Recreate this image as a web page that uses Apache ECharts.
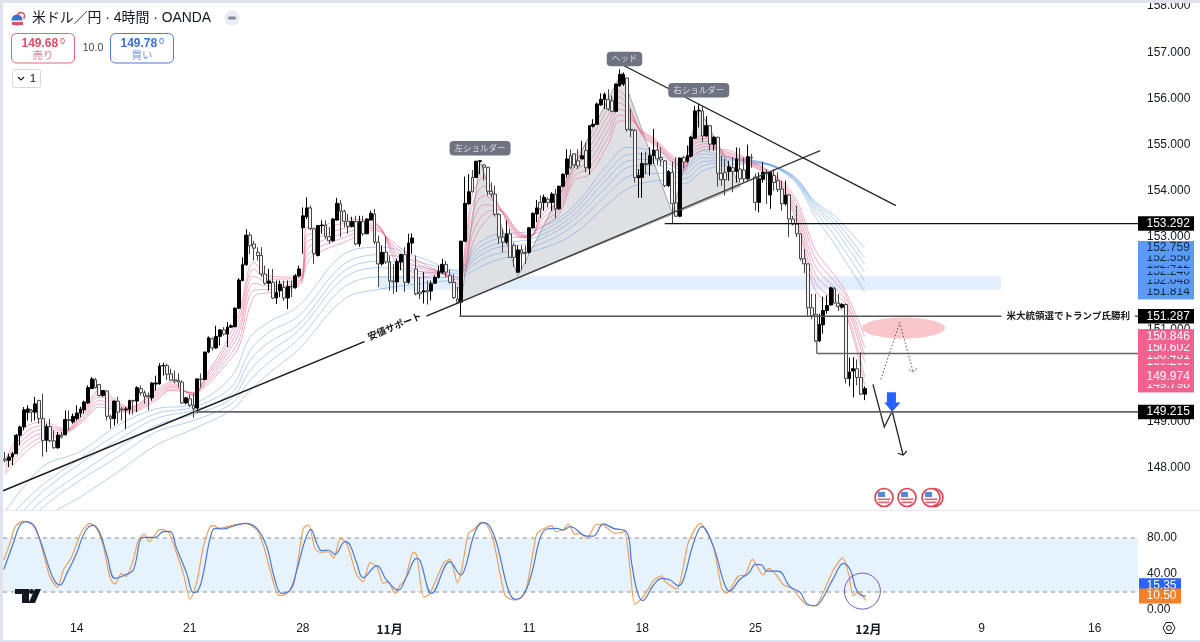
<!DOCTYPE html>
<html><head><meta charset="utf-8">
<style>html,body{margin:0;padding:0;background:#fff}#c{width:1200px;height:642px}</style>
<script src="https://cdn.jsdelivr.net/npm/echarts@6/dist/echarts.min.js"></script>
</head><body><div id="c"></div>
<script>
const FONT='"Liberation Sans","Noto Sans CJK JP",sans-serif';
// 4-hour candles, one row per bar: open, close, low, high
const candles=[
[148.2,148.17,148.13,148.35],[148.17,148.24,148.02,148.31],[148.24,148.31,148.06,148.35],[148.31,148.71,148.31,148.74],[148.71,148.89,148.49,148.92],
[148.89,149.26,148.82,149.32],[149.21,149.28,149.03,149.36],[149.25,149.21,149,149.28],[149.21,149.39,149.03,149.54],[149.46,149.07,148.96,149.48],
[149.07,148.6,148.25,149.61],[148.6,148.9,148.35,148.96],[148.9,148.59,148.56,149.07],[148.59,148.44,148.42,148.82],[148.44,148.71,148.42,148.78],
[148.71,148.67,148.64,148.78],[148.72,149.05,148.71,149.25],[149.05,149.03,148.82,149.25],[149,149.12,148.96,149.18],[149.07,149.19,149.03,149.36],
[149.19,149.28,149.1,149.33],[149.26,149.43,149.18,149.46],[149.41,149.74,149.39,149.79],[149.72,149.93,149.72,149.97],[149.91,149.74,149.72,149.95],
[149.81,149.57,149.55,149.82],[149.57,149.68,149.54,149.69],[149.67,149.12,149.03,149.68],[149.12,149.07,148.85,149.16],[149.07,149.45,148.92,149.46],
[149.45,149.21,148.96,149.54],[149.28,149.26,149.03,149.32],[149.26,149.28,148.85,149.32],[149.27,149.46,149.16,149.48],[149.46,149.45,149.16,149.48],
[149.45,149.74,149.21,149.77],[149.72,149.63,149.57,149.79],[149.63,149.55,149.39,149.68],[149.57,149.54,149.25,149.64],[149.52,149.84,149.46,149.86],
[149.82,149.84,149.68,150],[149.82,150.21,149.81,150.27],[150.21,150.22,150,150.28],[150.22,150.03,149.9,150.26],[150.04,149.9,149.88,150.15],
[149.91,149.88,149.84,150.11],[149.9,149.86,149.75,150.05],[149.86,149.41,149.39,149.9],[149.41,149.52,149.38,149.54],[149.5,149.36,149.32,149.59],
[149.36,149.28,149.09,149.61],[149.3,149.93,149.19,149.93],[149.93,149.92,149.75,150.05],[149.92,150.51,149.9,150.52],[150.51,150.82,150.49,150.85],
[150.8,150.6,150.54,150.83],[150.6,150.85,150.58,151.08],[150.85,150.99,150.65,151.01],[150.99,150.9,150.87,151.05],[150.9,151.05,150.62,151.16],
[151.05,151.08,151.03,151.11],[151.06,151.46,151.05,151.48],[151.46,152.07,151.44,152.11],[152.06,152.4,152.04,152.56],[152.4,153.04,152.38,153.17],
[153.04,152.81,152.63,153.1],[152.85,152.76,152.49,152.92],[152.67,152.6,152.49,152.78],[152.6,152.2,152.14,152.78],[152.2,152,151.97,152.38],
[152,152.05,151.84,152.31],[152.02,151.68,151.66,152.31],[151.68,151.8,151.55,152.06],[151.84,151.98,151.7,152.06],[151.91,151.68,151.62,152.06],
[151.68,151.93,151.44,152.06],[151.93,151.92,151.7,152.06],[151.91,152.16,151.88,152.2],[152.16,152.31,152.13,152.38],[153.2,153.46,152.64,153.64],
[153.44,153.63,153.39,153.86],[153.63,153.18,153.15,153.68],[153.18,152.64,152.42,153.18],[152.6,153.25,152.58,153.26],[153.25,153.26,153.07,153.36],
[153.26,153.01,152.96,153.36],[153.01,152.92,152.85,153.21],[152.92,153.39,152.89,153.41],[153.37,153.73,153.36,153.85],[153.72,153.56,153,153.8],
[153.56,153.34,153.21,153.59],[153.34,153.23,153.07,153.5],[153.23,153.34,153.21,153.44],[153.34,152.85,152.82,153.46],[152.85,153.34,152.79,153.46],
[153.34,153.07,153.03,153.46],[153.07,153.39,153.07,153.41],[153.37,153.51,153.36,153.57],[153.5,152.89,152.85,153.61],[152.89,152.42,151.92,153.03],
[152.42,152.67,152.38,152.82],[152.67,152.46,152.42,153],[152.46,152.05,151.84,152.6],[152.05,152.03,151.77,152.42],[152.03,152.47,151.81,152.53],
[152.46,152.62,152.28,152.64],[152.62,152.02,151.81,152.78],[152.02,152.87,151.99,153.07],[152.87,152.98,152.64,153.08],[152.31,151.77,151.74,152.6],
[151.81,151.77,151.66,152.13],[151.81,151.84,151.56,152.24],[151.84,151.81,151.54,152.06],[151.83,151.99,151.63,152.06],[152,152.13,151.99,152.17],
[152.13,152.25,152.1,152.38],[152.24,152.41,152.2,152.53],[152.41,152.24,152.13,152.49],[152.17,152.02,151.99,152.29],[152.02,151.69,151.66,152.2],
[151.66,151.59,151.56,151.92],[151.59,152.91,151.3,152.92],[152.91,153.73,152.89,154.31],[153.72,153.98,153.7,154.36],[154.29,153.98,153.97,154.45],
[154.29,154.64,154.28,154.65],[154.64,154.65,154.36,154.67],[154.56,154.51,154.22,154.58],[154.51,153.99,153.9,154.52],[153.99,153.93,153.86,154.18],
[153.93,153.49,153.44,154.11],[153.49,153,152.85,153.51],[153,152.89,152.67,153.18],[152.89,153.07,152.85,153.36],[153.07,152.56,152.55,153.18],
[152.82,152.56,152.36,152.87],[152.24,152.72,152.22,152.82],[152.72,152.65,152.28,152.82],[152.67,152.64,152.42,152.82],[152.67,153.2,152.64,153.21],
[153.2,153.51,153.18,153.54],[153.5,153.63,153.32,153.8],[153.75,153.61,153.41,153.9],[153.75,153.86,153.57,153.92],[153.82,153.75,153.64,153.86],
[153.75,153.93,153.57,153.97],[153.93,153.61,153.41,154.04],[153.61,154.1,153.59,154.11],[154.1,154.36,154.08,154.38],[154.36,154.69,154.29,154.9],
[154.76,154.5,154.47,154.9],[154.8,154.56,154.5,154.81],[154.65,154.54,154.47,154.9],[154.69,154.76,154.69,155.08],[154.87,154.5,154.4,155.05],
[154.49,155.41,154.35,155.42],[155.4,155.44,155.37,155.55],[155.44,155.88,155.43,155.91],[155.86,155.98,155.84,156.11],[155.98,156.09,155.77,156.13],
[155.98,155.77,155.73,156.2],[155.95,155.72,155.7,156.06],[155.72,156.31,155.7,156.32],[156.27,156.52,156.26,156.63],[156.31,156.52,156.27,156.56],
[156.44,155.33,155.28,156.45],[155.33,155.31,155.16,155.77],[155.31,154.29,154.18,155.34],[154.28,154.33,153.85,154.47],[154.29,154.59,153.85,154.83],
[154.59,154.57,154.36,154.85],[154.58,154.76,154.33,154.94],[154.76,154.88,154.58,155.34],[154.88,154.69,154.56,155.05],[154.72,154.67,154.54,154.94],
[154.65,154.11,154.08,154.67],[154.11,154.42,154.08,154.45],[154.4,153.72,153.28,154.64],[153.74,153.45,153.44,154.72],[153.45,154.71,153.43,154.72],
[154.72,154.62,154.47,154.76],[154.64,154.76,154.61,154.98],[154.75,155.16,154.72,155.19],[155.14,155.73,155.12,155.84],[155.73,155.74,155.37,155.88],
[155.73,155.19,155.05,155.84],[155.19,155.41,155.17,155.62],[155.41,155.01,154.87,155.41],[155.01,155.16,154.87,155.19],[155.16,154.38,154.09,155.17],
[154.38,154.24,154.11,154.76],[154.4,154.24,153.9,154.69],[154.42,154.52,154.22,154.65],[154.5,154.42,153.97,154.72],[154.42,154.69,154.18,154.94],
[154.47,154.26,154.18,154.93],[154.45,154.26,154.18,154.72],[154.26,154.74,154.23,155],[154.72,154.71,154.5,154.8],[154.3,153.75,153.57,154.38],
[153.75,154.26,153.54,154.4],[154.25,154.4,154.18,154.62],[154.4,154.39,153.72,154.47],[153.91,154.4,153.61,154.42],[154.33,154.18,154,154.47],
[154.22,154.03,153.97,154.4],[154.04,153.72,153.57,154.22],[153.72,153.91,153.68,154.22],[153.91,153.39,153,153.93],[153.39,153.28,153.25,153.46],
[153.28,153.07,153,153.68],[153.07,152.53,152.49,153.08],[152.53,152.42,152.22,152.74],[152.42,151.47,151.3,152.42],[151.47,151.3,151.22,151.77],
[151.33,150.75,150.73,151.77],[150.75,151.11,150.73,151.34],[151.1,151.41,150.91,151.71],[151.41,151.52,151.34,151.74],[151.53,151.9,151.52,151.93],
[151.88,151.57,151.56,151.92],[151.57,151.5,151.4,151.77],[151.48,151.54,151.45,151.57],[151.54,149.94,149.83,151.56],[149.94,150.08,149.77,150.39],
[150.1,150.15,149.53,150.4],[150.15,149.96,149.79,150.35],[149.96,149.6,149.58,150.51],[149.6,149.72,149.47,149.77]
];
// fast EMA ribbon: bar, then six lines
const pinkRows=[
[0,148.17,148.11,148.05,147.99,147.93,147.87],[5,148.85,148.74,148.63,148.53,148.42,148.31],[10,149,148.92,148.84,148.76,148.68,148.6],
[16,148.85,148.83,148.81,148.79,148.76,148.74],[21,149.28,149.23,149.18,149.13,149.08,149.03],[25,149.68,149.61,149.54,149.46,149.39,149.32],
[33,149.32,149.3,149.28,149.25,149.23,149.21],[40,149.68,149.64,149.59,149.55,149.5,149.46],[44,149.86,149.82,149.78,149.75,149.71,149.68],
[50,149.56,149.58,149.6,149.62,149.63,149.64],[53,149.97,149.93,149.89,149.84,149.8,149.75],[58,150.62,150.53,150.44,150.36,150.27,150.18],
[62,151.34,151.2,151.05,150.91,150.76,150.62],[66,152.45,152.3,152.15,152,151.85,151.7],[70,152.16,152.09,152.02,151.94,151.87,151.8],
[78,152.13,152.1,152.06,152.02,151.99,151.95],[80,153.2,153.04,152.89,152.73,152.58,152.42],[82,153.2,153.08,152.96,152.85,152.73,152.62],
[90,153.39,153.29,153.19,153.09,152.99,152.89],[98,153.32,153.28,153.25,153.21,153.18,153.14],[104,152.42,152.5,152.58,152.66,152.74,152.82],
[110,152.13,152.2,152.26,152.33,152.39,152.46],[116,152.2,152.21,152.22,152.22,152.23,152.24],[120,151.84,151.9,151.96,152.01,152.07,152.13],
[122,152.78,152.66,152.55,152.43,152.32,152.2],[124,153.93,153.71,153.5,153.28,153.07,152.85],[127,154.3,154.1,153.9,153.7,153.5,153.3],
[131,153.68,153.66,153.64,153.62,153.6,153.58],[136,153,153.03,153.06,153.08,153.11,153.14],[139,152.98,152.99,153,153.01,153.02,153.03],
[143,153.72,153.63,153.53,153.44,153.34,153.25],[147,153.97,153.88,153.78,153.69,153.59,153.5],[151,154.72,154.62,154.52,154.42,154.32,154.22],
[155,155.08,154.94,154.8,154.64,154.5,154.36],[160,155.8,155.64,155.48,155.33,155.17,155.01],[163,156.16,156.03,155.9,155.77,155.64,155.51],
[166,155.77,155.72,155.67,155.61,155.56,155.51],[169,155.19,155.21,155.23,155.26,155.28,155.3],[173,154.94,154.97,155,155.02,155.05,155.08],
[177,154.58,154.62,154.65,154.69,154.72,154.76],[180,154.4,154.46,154.52,154.57,154.63,154.69],[183,155.16,155.09,155.02,154.94,154.87,154.8],
[186,155.19,155.13,155.07,155.02,154.96,154.9],[190,154.79,154.81,154.83,154.86,154.88,154.9],[197,154.58,154.6,154.62,154.65,154.67,154.69],
[205,154.15,154.18,154.21,154.23,154.26,154.29],[210,153.32,153.41,153.51,153.6,153.7,153.79],[215,151.84,152.01,152.19,152.36,152.54,152.71],
[220,151.52,151.65,151.78,151.91,152.04,152.17],[223,151.34,151.43,151.53,151.62,151.72,151.81],[228,149.798,149.974,150.293,150.431,150.602,150.846]
];
// slow EMA ribbon: bar, then six lines
const blueRows=[
[0,147.05,146.85,146.65,146.5,146.3,146],[10,148.03,147.64,147.49,147.31,147.15,146.88],[20,148.36,148.21,148.1,147.89,147.74,147.38],
[30,148.93,148.75,148.61,148.43,148.25,147.92],[40,149.28,149.18,149.07,148.92,148.78,148.49],[50,149.39,149.32,149.25,149.16,149.03,148.85],
[60,149.97,149.75,149.61,149.5,149.39,149.25],[65,150.83,150.54,150.33,150.11,149.9,149.68],[70,151.16,150.94,150.72,150.51,150.29,150.05],
[78,151.52,151.3,151.12,150.98,150.8,150.58],[90,152.64,152.42,152.27,152.12,151.92,151.66],[100,152.78,152.62,152.48,152.34,152.14,151.88],
[110,152.56,152.46,152.36,152.25,152.12,151.99],[120,152.28,152.26,152.22,152.2,152.15,152.1],[125,152.82,152.72,152.62,152.54,152.44,152.31],
[130,153.05,152.95,152.85,152.76,152.63,152.49],[140,153.14,153.05,152.97,152.89,152.79,152.69],[150,153.6,153.52,153.42,153.33,153.2,153.02],
[160,154.58,154.42,154.28,154.13,153.95,153.72],[165,154.94,154.78,154.64,154.5,154.3,154.04],[170,154.9,154.8,154.68,154.55,154.38,154.18],
[175,154.8,154.72,154.62,154.52,154.38,154.23],[180,154.54,154.5,154.44,154.36,154.26,154.15],[185,154.87,154.8,154.72,154.63,154.54,154.43],
[190,154.76,154.73,154.69,154.65,154.6,154.54],[200,154.64,154.63,154.62,154.61,154.6,154.58],[205,154.51,154.51,154.5,154.49,154.48,154.47],
[210,154.26,154.25,154.23,154.21,154.18,154.15],[215,153.75,153.72,153.67,153.62,153.54,153.43],[220,153.46,153.38,153.29,153.18,153.03,152.85],
[228,152.759,152.55,152.412,152.24,152.048,151.814]
];
// stochastic: [bar, value]
const stochK=[[-0.3,55.6],[1.3,74.1],[2.7,92.6],[4.9,98.9],[6.2,97],[8,92.6],[9.7,70.4],[11.9,37],[13.9,25.2],[15.5,44.4],[17.7,59.3],[20.3,87],[22.5,96.3],[24.3,90.7],[26.1,70.4],[27.9,35.2],[29.2,28.9],[30.9,40.7],[32.1,37],[34,55.6],[35.4,77.8],[36.9,84.4],[38.3,75.9],[41.1,89.6],[43.3,87],[45.5,63],[47.3,40.7],[49.1,11.9],[50.8,29.6],[52.6,70.4],[54.4,92.6],[55.3,93.7],[57,90.7],[60.6,94.4],[63.7,96.3],[66.8,88.9],[68.5,72.2],[70.3,44.4],[72.5,16.7],[73.8,16.3],[76.5,27.8],[79.1,90.7],[80.5,94.4],[82.2,68.5],[83.6,64.1],[85.8,64.8],[87.1,57.4],[89,79.6],[90.6,74.1],[93.3,38.9],[95,31.5],[96.8,52.6],[98.6,48.1],[100.4,29.6],[101.7,31.5],[103.4,18.5],[104.8,27.8],[106.1,33.3],[108.3,64.1],[109.2,61.1],[111.1,14.1],[112.7,18.5],[116.3,51.9],[118,56.3],[120,30.4],[121.1,44.4],[122.9,85.2],[124.2,88.9],[126.4,97.4],[127.8,94.4],[129.5,77.8],[132.6,16.7],[134.8,11.1],[136.6,13],[138.4,25.9],[141,84.4],[142.8,90],[145,93.7],[146.1,87],[148.1,89.6],[149.4,95.2],[151.2,84.1],[152.5,85.2],[154.3,79.6],[156.9,95.2],[158.7,94.4],[161.8,85.2],[164.2,87],[165.8,44.4],[167.1,6.3],[169.3,14.8],[172,32.6],[174.2,38.1],[175.1,31.5],[178.2,23.3],[179.9,48.1],[181.3,75.9],[184.4,96.3],[187,79.6],[188.3,63],[190.1,24.1],[191.4,18.5],[194.5,37.8],[196.3,38.9],[198.2,56.3],[201.1,38.9],[202.5,46.3],[204.2,40.7],[206.5,27.8],[208.7,24.1],[210.9,13],[212.6,5.6],[214.9,4.8],[217.1,20.4],[219.7,44.4],[222.2,58.1],[223.7,40.7],[225,15.6],[226.3,20.4],[228.3,10.5]];
const stochD=[[-0.3,45.2],[2.2,74.1],[4,94.4],[5.7,98.1],[7.5,94.4],[9.3,77.8],[11.9,44.4],[13.3,31.5],[14.6,27.8],[16.4,40.7],[19,63],[21.2,87],[23.4,94.4],[25.2,85.2],[27,61.1],[29.2,35.2],[31.8,38.9],[34,44.4],[36.7,80.7],[39.8,80.7],[42,87],[43.8,87],[45.5,68.5],[48.2,40.7],[50,19.3],[51.3,22.2],[52.6,40.7],[54.4,79.6],[55.7,90.7],[57.9,90],[60.6,93.3],[63.7,96.3],[66.8,90.7],[69.4,70.4],[71.6,33.3],[73.4,18.5],[75.6,22.2],[77.4,44.4],[79.6,77.8],[81.1,89.6],[82.7,74.1],[84,65.9],[85.8,66.7],[87.5,61.9],[90.2,75.9],[91.5,72.2],[93.3,51.9],[95,35.9],[98.6,49.3],[101.2,33.3],[104.3,22.2],[106.5,37],[109.2,57.4],[110.1,54.8],[113.2,18.5],[118,53.7],[120.9,38.9],[122,46.3],[124.7,87],[126.9,97],[128.6,92.6],[130.4,74.1],[133.5,22.2],[135.3,11.9],[137.5,16.7],[139.7,40.7],[141.9,79.6],[143.7,90],[146.3,90.7],[148.1,88.9],[149.9,92.6],[154.3,82.2],[156.1,82.2],[158.7,95.6],[161.4,90.7],[164.9,86.3],[166.2,51.9],[167.7,20.4],[169.1,10.4],[172,27.8],[174.2,35.2],[176.4,33.3],[178.6,27],[179.9,33.3],[182.6,74.1],[184.8,92.6],[187.9,70.4],[190.6,31.5],[192.1,21.1],[195,34.4],[197.2,40.7],[199.1,50.7],[200.7,50],[202,43.3],[205.1,43.3],[208.2,25.9],[210.9,19.6],[212.6,7.4],[214.9,4.8],[216.6,11.1],[219.7,35.2],[222.4,51.9],[224.2,44.4],[225.5,25.9],[226.6,17.4],[228.3,15.35]];
// axis ticks
const xTickBars=[19,49,79,102,139,169,199,229,259,289];
const xTickLabels=['14','21','28','11月','11','18','25','12月','9','16'];
const priceTicks=[148,149,150,151,152,153,154,155,156,157,158];
const stochTicks=[0,40,80];
// price tags on the right axis
const blackTags=[153.292,151.287,149.215];
const blueTags=[151.814,152.048,152.24,152.412,152.55,152.759];
const pinkTags=[149.798,149.974,150.293,150.431,150.602,150.846];
// drawn analysis, in bar / price units
const xMin=-0.53,xMax=300.5,pMin=147.093,pMax=158.065;
const headShoulders=[[121,151.6],[126,154.65],[136,152.15],[163.5,156.55],[177,153.5],[184,155.8],[195,154.1]];
const supportBand=[99,152.15,264.2,151.86];
const supportLine=[[-0.5,147.51],[120.4,151.58]];
const neckline=[[120.4,151.58],[216.2,154.87]];
const headLine=[[163.2,156.75],[236.3,153.68]];
const levels=[[175,153.292,'#111',1.2],[120.5,151.287,'#555',1.6],[215.3,150.48,'#666',1.6],[50,149.215,'#666',1.8]];
const stub=[[215.3,150.75],[215.3,150.48]];
const redZone=[238.3,151.03,11,0.227];
const dotted=[[232.3,149.92],[237.3,151.15],[240.9,150.07]];
const dottedHead=[[239.8,150.13],[240.9,150.07],[241.9,150.17]];
const forecast=[[230.2,149.81],[233.2,148.89],[235.3,149.23],[238.2,148.28]];
const forecastHead=[[236.8,148.32],[238.2,148.28],[239.2,148.37]];
const blueArrow=[[233.9,149.64],[233.9,149.42],[233.2,149.42],[235.3,149.22],[237.5,149.42],[236.3,149.42],[236.3,149.64]];
const balloons=[['左ショルダー',126,154.92],['ヘッド',164.3,156.855],['右ショルダー',184,156.175]];
const notes=[['安値サポート',103.4,151.05,0.394],['米大統領選でトランプ氏勝利',282,151.287,0]];
const circleAt=[227.4,21];

const pink='rgba(232,95,135,.5)',blue='rgba(90,150,225,.45)';
const ribbon=(rows,n,color,name)=>({type:'line',name:name+n,xAxisIndex:0,yAxisIndex:0,data:rows.map(r=>[r[0],r[n]]),
  smooth:.35,symbol:'none',lineStyle:{width:1,color},z:3,silent:true,clip:true});

const chart=echarts.init(document.getElementById('c'),null,{renderer:'canvas'});
const tagBox=(api,v,bg,fg)=>{const p=api.coord([xMax,v]);return{type:'group',children:[
  {type:'rect',shape:{x:p[0],y:p[1]-7.3,width:56,height:14.6},style:{fill:bg}},
  {type:'text',x:p[0]+8.5,y:p[1],style:{text:v.toFixed(3),fill:fg,font:'12px '+FONT,verticalAlign:'middle',align:'left'}}]};};
const line=(api,pts,stroke,w,dash)=>({type:'polyline',shape:{points:pts.map(q=>api.coord(q))},style:{stroke,lineWidth:w,fill:null,lineDash:dash||null}});
const under=(par,api)=>{
  const a=api.coord([supportBand[0],supportBand[1]]),b=api.coord([supportBand[2],supportBand[3]]);
  return {type:'group',children:[
    {type:'rect',shape:{x:a[0],y:a[1],width:b[0]-a[0],height:b[1]-a[1]},style:{fill:'#e2eefb'}},
    {type:'polygon',shape:{points:headShoulders.map(q=>api.coord(q))},style:{fill:'#dfe0e4',stroke:'#8e9096',lineWidth:.8}}]};
};
const over=(par,api)=>{
  const c=api.coord([redZone[0],redZone[1]]),e1=api.coord([redZone[0]+redZone[2],redZone[1]+redZone[3]]);
  const kids=[
    {type:'ellipse',shape:{cx:c[0],cy:c[1],rx:e1[0]-c[0],ry:c[1]-e1[1]},style:{fill:'#f9c6cc'}},
    line(api,supportLine,'#1c1c1c',1.4),line(api,neckline,'#3a3a3a',1.4),line(api,headLine,'#222',1.3),
    line(api,stub,'#666',1.4),
    line(api,dotted,'#555',1,[1.5,2]),line(api,dottedHead,'#555',1,[1.5,1.5]),
    line(api,forecast,'#222',1.3),line(api,forecastHead,'#222',1.2),
    {type:'polygon',shape:{points:blueArrow.map(q=>api.coord(q))},style:{fill:'#2962ff'}}
  ];
  levels.forEach(l=>kids.push(line(api,[[l[0],l[1]],[xMax,l[1]]],l[2],l[3])));
  notes.forEach(n=>{const p=api.coord([n[1],n[2]]);kids.push({type:'text',x:p[0],y:p[1],rotation:n[3],
    style:{text:n[0],fill:'#1a1a1a',font:'bold 9.5px '+FONT,align:'center',verticalAlign:'middle',backgroundColor:'#fff',padding:[1,5]}});});
  balloons.forEach(n=>{const p=api.coord([n[1],n[2]]);kids.push({type:'text',x:p[0],y:p[1],
    style:{text:n[0],fill:'#dcdde2',font:'8.5px '+FONT,align:'center',verticalAlign:'middle',backgroundColor:'#6f7280',padding:[3,5],borderRadius:4}});});
  return {type:'group',children:kids};
};
const tags=(par,api)=>{
  const kids=[];
  const back=(list,bg)=>{const a=api.coord([xMax,list[list.length-1]]),b=api.coord([xMax,list[0]]);
    kids.push({type:'rect',shape:{x:a[0],y:a[1]-7.3,width:56,height:b[1]-a[1]+14.6},style:{fill:bg}});};
  back(blueTags,'#5a9cf5');back(pinkTags,'#f2628f');
  blueTags.forEach(v=>kids.push(tagBox(api,v,'#5a9cf5','#0e2444')));
  pinkTags.forEach(v=>kids.push(tagBox(api,v,'#f2628f','#fff')));
  blackTags.forEach(v=>kids.push(tagBox(api,v,'#000','#fff')));
  return {type:'group',children:kids};
};
const stochOver=(par,api)=>{
  const p=api.coord(circleAt),e=api.coord([xMax,0]);
  const tagR=(last,dy,bg)=>({type:'group',children:[
    {type:'rect',shape:{x:e[0]+1,y:api.coord([0,last])[1]+dy-7.5,width:42,height:15},style:{fill:bg}},
    {type:'text',x:e[0]+8.5,y:api.coord([0,last])[1]+dy,style:{text:last.toFixed(2),fill:'#fff',font:'12px '+FONT,verticalAlign:'middle'}}]});
  return {type:'group',children:[
    {type:'circle',shape:{cx:p[0],cy:p[1],r:18},style:{fill:null,stroke:'#7a5ab5',lineWidth:1}},
    tagR(stochD[stochD.length-1][1],-10.5,'#2962ff'),
    tagR(stochK[stochK.length-1][1],-4.5,'#f57f2a')]};
};
const custom=(renderItem,xi,yi,z)=>({type:'custom',xAxisIndex:xi,yAxisIndex:yi,coordinateSystem:'cartesian2d',renderItem,data:[[0,xi?0:150]],z,silent:true,clip:false});

const flag=(x)=>({type:'group',x,y:497.5,children:[
  {type:'circle',shape:{cx:0,cy:0,r:9},style:{fill:'#fff',stroke:'#e0404f',lineWidth:1.6}},
  {type:'rect',shape:{x:-6,y:-5.5,width:7,height:5},style:{fill:'#5b86d8'}},
  {type:'rect',shape:{x:-6.5,y:1,width:13,height:1.6},style:{fill:'#e66070'}},
  {type:'rect',shape:{x:-5.5,y:4,width:11,height:1.6},style:{fill:'#e66070'}}]});

const graphics=[
  {type:'rect',z:50,shape:{x:0,y:0,width:1200,height:3},style:{fill:'#e0e3eb'}},
  {type:'rect',z:50,shape:{x:0,y:0,width:3,height:642},style:{fill:'#e0e3eb'}},
  {type:'rect',z:50,shape:{x:0,y:640,width:1200,height:2},style:{fill:'#e0e3eb'}},
  {type:'rect',z:50,shape:{x:3,y:510,width:1197,height:1},style:{fill:'#e6e8ee'}},
  // symbol logo
  {type:'circle',z:50,shape:{cx:17,cy:20,r:5.5},style:{fill:'#3a74c9'}},
  {type:'rect',z:50,shape:{x:12,y:20.5,width:11,height:1.5},style:{fill:'#fff'}},
  {type:'rect',z:50,shape:{x:12,y:22,width:11,height:3},style:{fill:'#e0505f'}},
  {type:'arc',z:50,shape:{cx:21,cy:16,r:3.5,startAngle:-2.8,endAngle:0.8},style:{stroke:'#e0505f',lineWidth:1.6,fill:null}},
  {type:'text',z:50,x:32,y:18.5,style:{text:'米ドル／円 · 4時間 · OANDA',fill:'#131722',font:'13.9px '+FONT,verticalAlign:'middle'}},
  {type:'circle',z:50,shape:{cx:232,cy:18,r:7.5},style:{fill:'#e9eaef'}},
  {type:'rect',z:50,shape:{x:228,y:16.5,width:8,height:3,r:1.5},style:{fill:'#868a96'}},
  // sell
  {type:'rect',z:50,shape:{x:11.5,y:33.5,width:63,height:29.5,r:5},style:{fill:'#fff',stroke:'#e8647a',lineWidth:1}},
  {type:'text',z:50,x:21.5,y:43.5,style:{text:'149.68',fill:'#de4d64',font:'bold 12px '+FONT,verticalAlign:'middle'}},
  {type:'text',z:50,x:60,y:42,style:{text:'0',fill:'#de4d64',font:'9px '+FONT,verticalAlign:'middle'}},
  {type:'text',z:50,x:43,y:56,style:{text:'売り',fill:'#e8788c',font:'10.5px '+FONT,align:'center',verticalAlign:'middle'}},
  {type:'text',z:50,x:93,y:48,style:{text:'10.0',fill:'#434651',font:'10.5px '+FONT,align:'center',verticalAlign:'middle'}},
  // buy
  {type:'rect',z:50,shape:{x:110.5,y:33.5,width:63,height:29.5,r:5},style:{fill:'#fff',stroke:'#4a7bdc',lineWidth:1}},
  {type:'text',z:50,x:120.5,y:43.5,style:{text:'149.78',fill:'#3e6fd2',font:'bold 12px '+FONT,verticalAlign:'middle'}},
  {type:'text',z:50,x:159,y:42,style:{text:'0',fill:'#3e6fd2',font:'9px '+FONT,verticalAlign:'middle'}},
  {type:'text',z:50,x:142,y:56,style:{text:'買い',fill:'#6d92de',font:'10.5px '+FONT,align:'center',verticalAlign:'middle'}},
  // collapse button
  {type:'rect',z:50,shape:{x:12.5,y:69.5,width:28,height:18,r:2},style:{fill:'#fff',stroke:'#d6d8df',lineWidth:1}},
  {type:'polyline',z:50,shape:{points:[[18,77],[21,80],[24,77]]},style:{stroke:'#131722',lineWidth:1.2,fill:null}},
  {type:'text',z:50,x:33,y:79,style:{text:'1',fill:'#131722',font:'11.5px '+FONT,align:'center',verticalAlign:'middle'}},
  // platform mark
  {type:'polygon',z:50,shape:{points:[[15,589],[29,589],[29,603],[22,603],[22,594],[15,594]]},style:{fill:'#131722'}},
  {type:'circle',z:50,shape:{cx:31.5,cy:591.5,r:2.5},style:{fill:'#131722'}},
  {type:'polygon',z:50,shape:{points:[[35,589],[41,589],[35,603],[28.5,603]]},style:{fill:'#131722'}},
  // settings
  {type:'polygon',z:50,shape:{points:[[1163,628],[1166,622.5],[1172,622.5],[1175,628],[1172,633.5],[1166,633.5]]},style:{fill:'#fff',stroke:'#131722',lineWidth:1}},
  {type:'circle',z:50,shape:{cx:1169,cy:628,r:2.4},style:{fill:'#fff',stroke:'#131722',lineWidth:1}},
  flag(934),flag(931),flag(907),flag(884)
];

chart.setOption({
  animation:false,backgroundColor:'#fff',
  textStyle:{fontFamily:FONT},
  grid:[{left:3,right:62,top:2,height:508},{left:3,right:62,top:511,height:111}],
  xAxis:[
    {type:'value',gridIndex:0,min:xMin,max:xMax,axisLine:{show:false},axisTick:{show:false},axisLabel:{show:false},splitLine:{show:false}},
    {type:'value',gridIndex:1,min:xMin,max:xMax,axisLine:{show:false},axisTick:{show:false},splitLine:{show:false},
     axisLabel:{customValues:xTickBars,margin:1,fontSize:12,color:'#131722',showMinLabel:true,showMaxLabel:true,hideOverlap:false,
       formatter:v=>{const t=xTickLabels[xTickBars.indexOf(v)];return t.includes('月')?'{b|'+t+'}':t;},
       rich:{b:{fontWeight:'bold',fontSize:12,color:'#131722',fontFamily:'"Noto Sans CJK JP",sans-serif'}}}}
  ],
  yAxis:[
    {type:'value',gridIndex:0,position:'right',min:pMin,max:pMax,axisLine:{show:false},axisTick:{show:false},splitLine:{show:false},
     axisLabel:{customValues:priceTicks,margin:9,fontSize:12,color:'#131722',formatter:v=>v.toFixed(3)}},
    {type:'value',gridIndex:1,position:'right',min:-13.3,max:110,axisLine:{show:false},axisTick:{show:false},splitLine:{show:false},
     axisLabel:{customValues:stochTicks,margin:9,fontSize:12,color:'#131722',formatter:v=>v.toFixed(2)}}
  ],
  graphic:graphics,
  series:[
    custom(under,0,0,1),
    ...[1,2,3,4,5,6].map(n=>ribbon(blueRows,n,blue,'slow')),
    ...[1,2,3,4,5,6].map(n=>ribbon(pinkRows,n,pink,'fast')),
    {type:'candlestick',xAxisIndex:0,yAxisIndex:0,z:5,silent:true,barWidth:3.3,clip:true,
     data:candles.map((c,i)=>[i,c[0],c[1],c[2],c[3]]),encode:{x:0,y:[1,2,3,4]},
     itemStyle:{color:'#000',color0:'#f4f4f4',borderColor:'#000',borderColor0:'#444',borderWidth:1}},
    custom(over,0,0,6),
    custom(tags,0,0,7),
    {type:'line',xAxisIndex:1,yAxisIndex:1,name:'band',data:[[xMin,80],[xMax,80]],symbol:'none',silent:true,z:1,
     lineStyle:{color:'#8f8f8f',type:[4,4],width:1},
     markArea:{silent:true,itemStyle:{color:'#e6f2fc'},data:[[{xAxis:xMin,yAxis:20},{xAxis:xMax,yAxis:80}]]}},
    {type:'line',xAxisIndex:1,yAxisIndex:1,name:'low',data:[[xMin,20],[xMax,20]],symbol:'none',silent:true,z:2,lineStyle:{color:'#8f8f8f',type:[4,4],width:1}},
    {type:'line',xAxisIndex:1,yAxisIndex:1,name:'%K',data:stochK,smooth:.25,symbol:'none',silent:true,z:3,lineStyle:{color:'#ee9a52',width:1.1}},
    {type:'line',xAxisIndex:1,yAxisIndex:1,name:'%D',data:stochD,smooth:.4,symbol:'none',silent:true,z:4,lineStyle:{color:'#4a78d8',width:1.2}},
    custom(stochOver,1,1,6)
  ]
});
</script></body></html>
